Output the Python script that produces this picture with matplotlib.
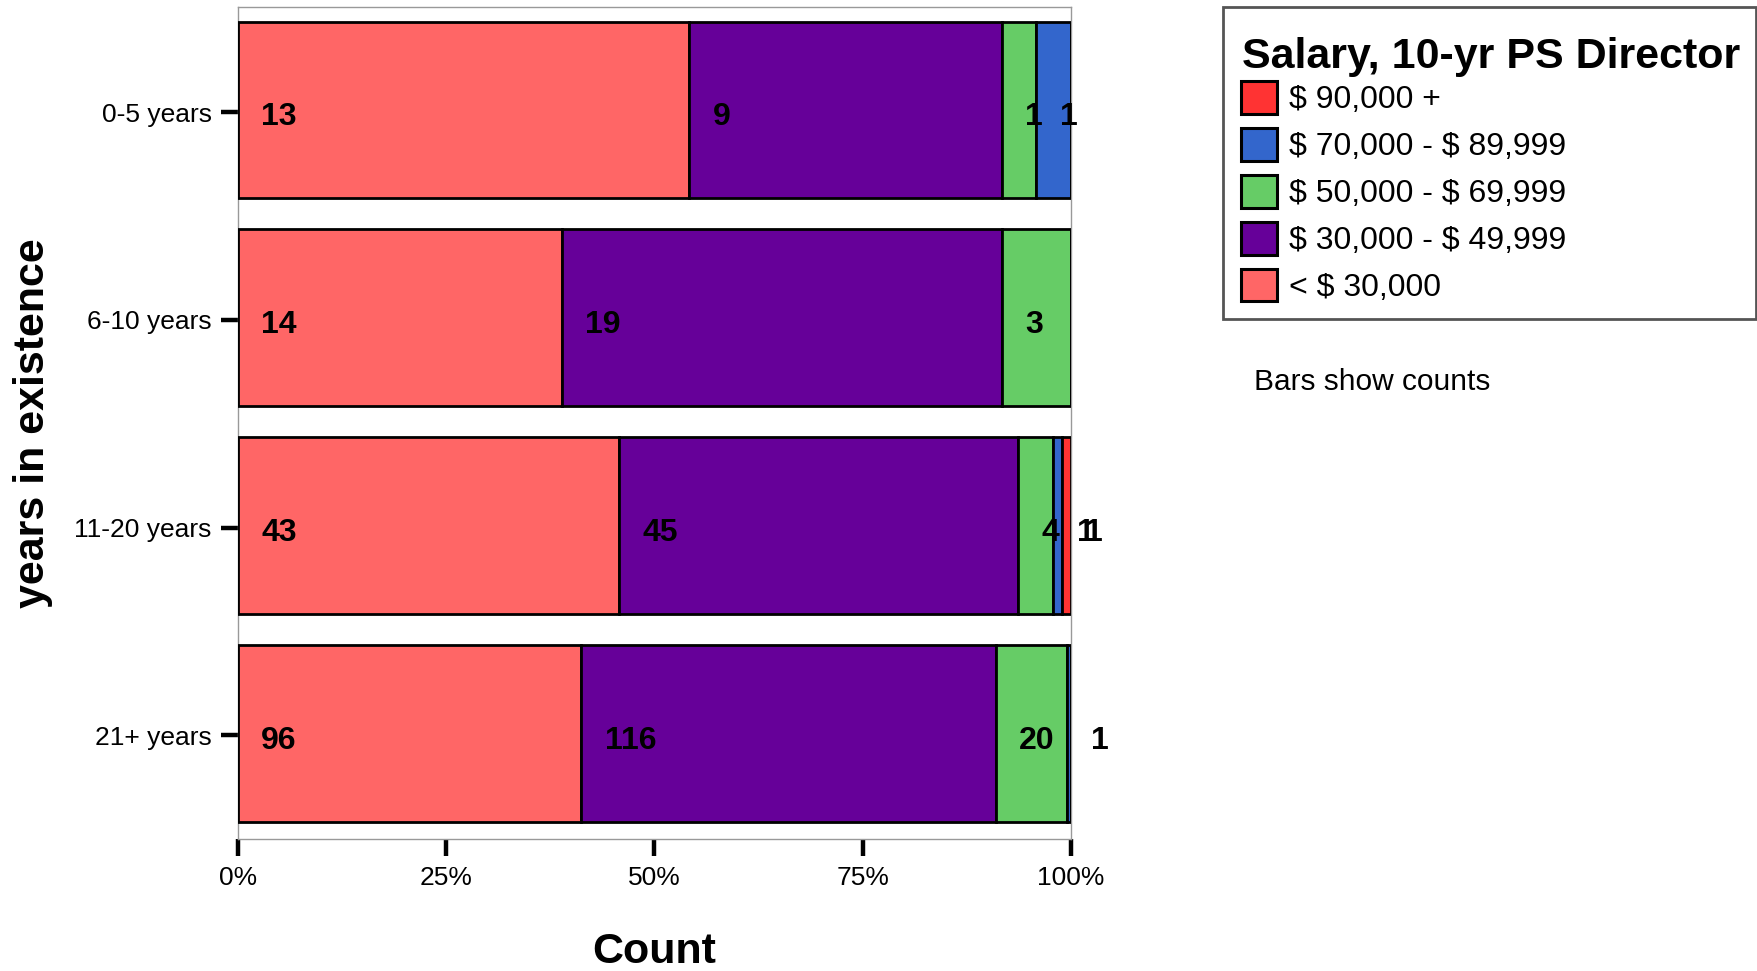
import matplotlib
matplotlib.use("Agg")
import matplotlib.pyplot as plt
from matplotlib.patches import Patch, Rectangle
import numpy as np

plt.rcParams['font.family'] = ['Liberation Sans', 'DejaVu Sans']

categories = ["0-5 years", "6-10 years", "11-20 years", "21+ years"]
series_names = ["< $ 30,000", "$ 30,000 - $ 49,999", "$ 50,000 - $ 69,999",
                "$ 70,000 - $ 89,999", "$ 90,000 +"]
series_colors = ["#FF6666", "#660099", "#66CC66", "#3366CC", "#FF3333"]
counts = {
    "< $ 30,000":          [13, 14, 43, 96],
    "$ 30,000 - $ 49,999": [9, 19, 45, 116],
    "$ 50,000 - $ 69,999": [1, 3, 4, 20],
    "$ 70,000 - $ 89,999": [1, 0, 1, 1],
    "$ 90,000 +":          [0, 0, 1, 0],
}
x_ticks = [0, 0.25, 0.5, 0.75, 1.0]
x_ticklabels = ["0%", "25%", "50%", "75%", "100%"]
legend_title = "Salary, 10-yr PS Director"
note_text = "Bars show counts"

W, H = 1758, 971
fig = plt.figure(figsize=(W / 100, H / 100), dpi=100)
ax_l, ax_r, ax_t, ax_b = 238.0, 1071.0, 7.3, 839.3
ax = fig.add_axes([ax_l / W, 1 - ax_b / H, (ax_r - ax_l) / W, (ax_b - ax_t) / H])

vals = np.array([counts[s] for s in series_names], dtype=float)
totals = vals.sum(axis=0)
fracs = vals / totals
y = np.arange(len(categories))
left = np.zeros(len(categories))
for i, s in enumerate(series_names):
    ax.barh(y, fracs[i], left=left, height=0.85, color=series_colors[i],
            edgecolor="black", linewidth=2.0, zorder=3)
    for j in range(len(categories)):
        if vals[i, j] > 0:
            ax.text(left[j] + 0.028, y[j] + 0.035, f"{int(vals[i, j])}", ha="left", va="center",
                    fontsize=23, fontweight="bold", color="black", zorder=5)
    left = left + fracs[i]

ax.set_xlim(0, 1)
ax.set_ylim(3.51, -0.494)
ax.set_yticks(y + 0.01)
ax.set_yticklabels(categories, fontsize=19)
ax.set_xticks(x_ticks)
ax.set_xticklabels(x_ticklabels, fontsize=19)
ax.tick_params(axis="both", direction="out", length=12, width=3.2, color="black", pad=7)
for sp in ax.spines.values():
    sp.set_color("#999999")
    sp.set_linewidth(1)

ax.set_ylabel("years in existence", fontsize=31, fontweight="bold")
ax.yaxis.label.set_va("center")
ax.yaxis.set_label_coords((33 - ax_l) / (ax_r - ax_l), 0.5)
ax.set_xlabel("Count", fontsize=31, fontweight="bold")
ax.xaxis.label.set_va("center")
ax.xaxis.set_label_coords(0.5, -(952 - ax_b) / (ax_b - ax_t))

# legend frame
fig.patches.append(Rectangle((1223 / W, 1 - 319.3 / H), (1756 - 1223) / W, (319.3 - 7.3) / H,
                             transform=fig.transFigure, fill=False, edgecolor="#555555",
                             linewidth=2, zorder=1))
fig.text(1242 / W, 1 - 68.3 / H, legend_title, fontsize=31, fontweight="bold",
         ha="left", va="baseline")

handles = [Patch(facecolor=series_colors[i], edgecolor="black", linewidth=2.2,
                 label=series_names[i].replace("$", r"\$"))
           for i in range(len(series_names) - 1, -1, -1)]
leg = fig.legend(handles=handles, loc="upper left", bbox_to_anchor=(1240.7 / W, 1 - 81 / H),
                 borderaxespad=0, fontsize=23, frameon=False,
                 handlelength=1.15, handleheight=1.2, handletextpad=0.35,
                 labelspacing=0.40, borderpad=0)

fig.text(1254 / W, 1 - 390 / H, note_text, fontsize=21.5, ha="left", va="baseline")

fig.savefig("out.png", dpi=100)
